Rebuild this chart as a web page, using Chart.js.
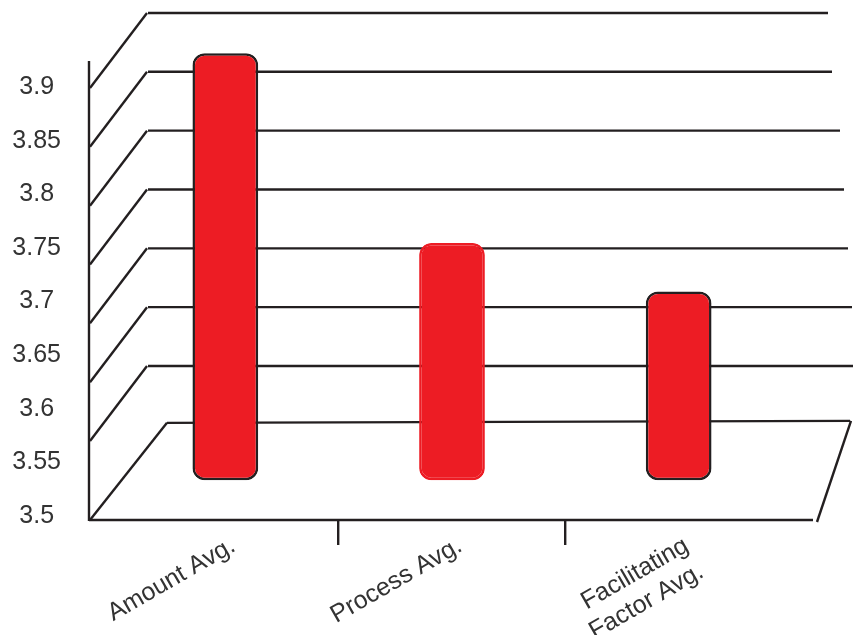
<!DOCTYPE html>
<html>
<head>
<meta charset="utf-8">
<script src="https://cdn.jsdelivr.net/npm/chart.js@4.4.1/dist/chart.umd.min.js"></script>
<style>
  html, body { margin: 0; padding: 0; background: #fff; }
  #wrap { width: 853px; height: 635px; }
</style>
</head>
<body>
<div id="wrap"><canvas id="chart"></canvas></div>
<script>
const categories = ["Amount Avg.", "Process Avg.", ["Facilitating", "Factor Avg."]];
const averages = [3.896, 3.719, 3.674];
const barBase = 3.498;
const yTicks = [3.5, 3.55, 3.6, 3.65, 3.7, 3.75, 3.8, 3.85, 3.9];
const wallLevels = [3.9, 3.85, 3.8, 3.75, 3.7, 3.65, 3.6];
const floorLevel = 3.55;

const INK = "#231f20";
const RED = "#ed1c24";

// back wall, side wall and floor of the fake 3d frame
const frame3d = {
  id: "frame3d",
  beforeDatasetsDraw(chart) {
    const { ctx, chartArea } = chart;
    const g = chart.scales.yGrid;
    const floorFront = chartArea.bottom;
    const floorBack = g.getPixelForValue(floorLevel) - 2;
    ctx.save();
    ctx.strokeStyle = INK;
    ctx.lineWidth = 2.4;
    ctx.lineCap = "butt";
    const line = (x1, y1, x2, y2) => {
      ctx.beginPath();
      ctx.moveTo(x1, y1);
      ctx.lineTo(x2, y2);
      ctx.stroke();
    };
    wallLevels.forEach((v, i) => {
      const p = g.getPixelForValue(v);
      line(148, p, Math.min(828 + 4 * i + (i > 1 ? 4 : 0), 853), p);
      line(90, p + 75, 147, p);
    });
    // floor
    line(89, floorFront, 813, floorFront);
    line(90, floorFront, 167, floorBack);
    line(167, floorBack, 850, floorBack - 2);
    line(851, floorBack - 2, 817, floorFront + 2);
    // front axis
    line(89, 61, 89, floorFront + 1);
    ctx.restore();
  }
};

new Chart(document.getElementById("chart"), {
  type: "bar",
  data: {
    labels: categories,
    datasets: [{
      data: averages.map(v => [barBase, v]),
      yAxisID: "yBar",
      backgroundColor: RED,
      borderColor: [INK, RED, INK],
      borderWidth: 2.5,
      borderRadius: 12,
      borderSkipped: false,
      barPercentage: 0.29,
      categoryPercentage: 1,
    }]
  },
  options: {
    responsive: true,
    maintainAspectRatio: false,
    animation: false,
    layout: { padding: { top: 10, right: 61, bottom: 0, left: 0 } },
    plugins: { legend: { display: false }, tooltip: { enabled: false } },
    scales: {
      x: {
        offset: true,
        afterFit: s => { s.height = 115; },
        border: { display: false },
        grid: {
          offset: true,
          drawOnChartArea: false,
          drawTicks: true,
          tickLength: 25,
          lineWidth: 2.4,
          color: c => (c.index === 1 || c.index === 2) ? INK : "rgba(0,0,0,0)",
        },
        ticks: {
          color: "#333",
          font: { family: "Liberation Sans", size: 25 },
          maxRotation: 30,
          minRotation: 30,
          labelOffset: 8,
          padding: -14,
        }
      },
      y: {
        position: "left",
        min: 3.49627,
        max: 3.97179,
        afterFit: s => { s.width = 112; s.paddingTop = 0; s.paddingBottom = 0; },
        afterBuildTicks: s => { s.ticks = yTicks.map(v => ({ value: v })); },
        border: { display: false },
        grid: { display: false, drawTicks: false },
        ticks: {
          color: "#333",
          crossAlign: "center",
          padding: 51,
          font: { family: "Liberation Sans", size: 25 },
          callback: v => String(+v.toFixed(2)),
        }
      },
      yBar: { display: false, min: 3.46084, max: 3.93636 },
      yGrid: { display: false, min: 3.46912, max: 3.90254 }
    }
  },
  plugins: [frame3d]
});
</script>
</body>
</html>
